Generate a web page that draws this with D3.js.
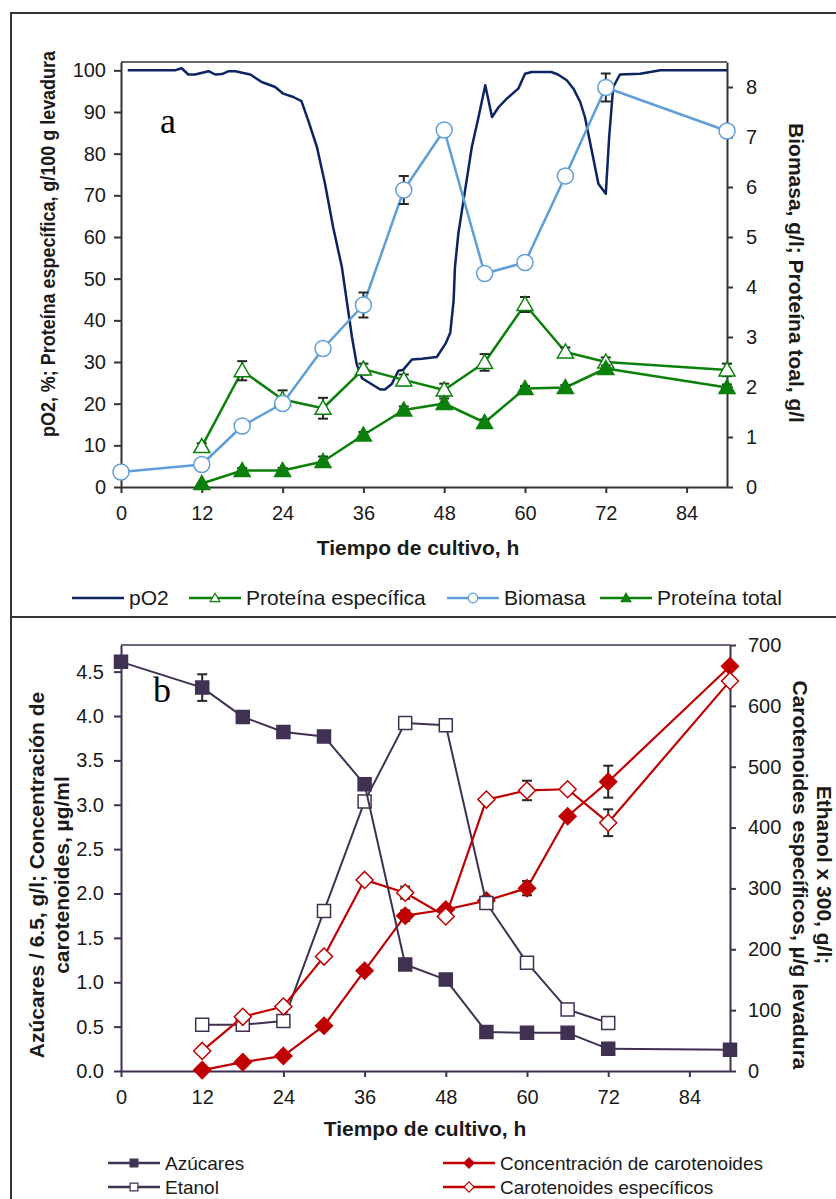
<!DOCTYPE html>
<html>
<head>
<meta charset="utf-8">
<script src="https://cdn.jsdelivr.net/npm/d3@7"></script>
<style>
  body { margin: 0; background: #fff; }
  svg { display: block; font-family: 'Liberation Sans', Arial, sans-serif; }
</style>
</head>
<body>
<svg id="chart" width="836" height="1199"></svg>
<script>
// ---- panel a ----
const horasA = [0, 12, 18, 24, 30, 36, 42, 48, 54, 60, 66, 72, 90];
const biomasa = [0.30, 0.45, 1.22, 1.67, 2.77, 3.64, 5.94, 7.14, 4.27, 4.49, 6.22, 7.99, 7.12];
const biomasaErr = [0, 0, 0, 0, 0, 0.25, 0.28, 0, 0, 0, 0, 0.28, 0];
const protEsp = [null, 9.7, 27.9, 21.0, 18.9, 28.3, 25.7, 23.3, 29.9, 43.8, 32.4, 30.0, 28.1];
const protEspErr = [0, 0.8, 2.3, 2.2, 2.5, 1.3, 1.3, 1.5, 2.0, 1.8, 1.1, 1.1, 1.5];
const protTotal = [null, 0.07, 0.33, 0.33, 0.51, 1.04, 1.54, 1.67, 1.29, 1.97, 1.99, 2.37, 1.99];
const protTotalErr = [0, 0, 0.05, 0.05, 0.1, 0.06, 0.07, 0.1, 0.06, 0.05, 0.05, 0.06, 0.06];

const pO2Horas = [1, 8, 9, 10, 11, 13, 14, 15, 16, 17, 18, 19.2, 20.9, 22.9, 24.1, 25.6, 26.8, 27.8,
  29.1, 30.3, 31.5, 32.8, 33.5, 34.3, 35.0, 35.8, 37.0, 38.5, 39.2, 40.2, 41.2, 41.9, 43.2, 44.7,
  46.9, 48.2, 48.9, 49.4, 49.6, 50.1, 51.1, 52.1, 53.1, 54.1, 55.1, 56.1, 57.3, 59.0, 60.0, 61.0,
  63.9, 64.9, 66.2, 67.2, 68.2, 68.9, 69.9, 70.9, 72.0, 72.5, 73.1, 74.1, 77.1, 80.1, 90];
const pO2 = [100, 100, 100.5, 99.0, 99.0, 99.8, 99.0, 99.1, 99.8, 99.8, 99.4, 99.0, 97.2, 96.0, 94.4, 93.6, 92.6, 88.0,
  81.6, 72.8, 62.4, 52.8, 45.0, 36.0, 29.5, 26.1, 24.9, 23.4, 23.4, 24.7, 27.9, 28.1, 30.6, 30.8,
  31.2, 34.4, 37.0, 44.8, 52.8, 60.8, 71.2, 81.6, 88.8, 96.4, 88.8, 91.2, 93.2, 95.6, 99.2, 99.6,
  99.6, 99.0, 97.6, 95.6, 92.4, 88.8, 80.8, 72.8, 70.4, 84.0, 96.0, 99.0, 99.2, 100, 100];

const ticksHoras = [0, 12, 24, 36, 48, 60, 72, 84];
const ticksA1 = [0, 10, 20, 30, 40, 50, 60, 70, 80, 90, 100];
const ticksA2 = [0, 1, 2, 3, 4, 5, 6, 7, 8];

// ---- panel b ----
const horasB = [0, 12, 18, 24, 30, 36, 42, 48, 54, 60, 66, 72, 90];
const azucares = [4.61, 4.32, 3.99, 3.82, 3.77, 3.23, 1.20, 1.03, 0.44, 0.43, 0.43, 0.25, 0.24];
const azucaresErr = [0, 0.15, 0.05, 0, 0, 0.05, 0, 0, 0, 0, 0, 0, 0];
const etanol = [null, 76, 76, 82, 263, 443, 572, 568, 276, 178, 101, 79, null];
const carotConc = [null, 0.01, 0.10, 0.17, 0.51, 1.13, 1.75, 1.82, 1.92, 2.06, 2.87, 3.26, 4.56];
const carotConcErr = [0, 0, 0, 0, 0, 0, 0.06, 0, 0, 0.08, 0, 0.18, 0];
const carotEsp = [null, 33, 89, 106, 188, 314, 293, 254, 446, 461, 463, 408, 641];
const carotEspErr = [0, 0, 0, 0, 0, 0, 10, 0, 0, 16, 0, 22, 0];

const ticksB1 = [0, 0.5, 1, 1.5, 2, 2.5, 3, 3.5, 4, 4.5];
const ticksB2 = [0, 100, 200, 300, 400, 500, 600, 700];

const navy = '#0d2463', lightBlue = '#5f9ed8', green = '#0b800b';
const purple = '#403152', red = '#c00000';
const font = 'Liberation Sans, Arial, sans-serif';

const shapes = {
  circle: s => `M${8 * s},0A${8 * s},${8 * s},0,1,1,${-8 * s},0A${8 * s},${8 * s},0,1,1,${8 * s},0Z`,
  triangle: s => `M0,${-8 * s}L${8 * s},${6 * s}L${-8 * s},${6 * s}Z`,
  square: s => `M${-6.5 * s},${-6.5 * s}h${13 * s}v${13 * s}h${-13 * s}Z`,
  diamond: s => `M0,${-8.5 * s}L${8.5 * s},0L0,${8.5 * s}L${-8.5 * s},0Z`
};

const svg = d3.select('#chart');

// outer frame
svg.append('path')
  .attr('d', 'M11,1199V13H836')
  .attr('fill', 'none').attr('stroke', '#333').attr('stroke-width', 2);
svg.append('line')
  .attr('x1', 11).attr('x2', 836).attr('y1', 617).attr('y2', 617)
  .attr('stroke', '#333').attr('stroke-width', 2);

function drawSeries(g, x, y, horas, vals, errs, o) {
  const pts = horas.map((t, i) => ({ t, v: vals[i], e: errs ? errs[i] : 0 }))
    .filter(d => d.v != null);

  g.append('path')
    .datum(pts)
    .attr('d', d3.line().x(d => x(d.t)).y(d => y(d.v)))
    .attr('fill', 'none')
    .attr('stroke', o.color)
    .attr('stroke-width', o.width || 2.5)
    .attr('stroke-linejoin', 'round');

  const eb = g.append('g').selectAll('g')
    .data(pts.filter(d => d.e > 0))
    .enter()
    .append('g')
      .attr('stroke', '#262626')
      .attr('stroke-width', 2);
  eb.append('line')
    .attr('x1', d => x(d.t)).attr('x2', d => x(d.t))
    .attr('y1', d => y(d.v - d.e)).attr('y2', d => y(d.v + d.e));
  eb.append('line')
    .attr('x1', d => x(d.t) - 5).attr('x2', d => x(d.t) + 5)
    .attr('y1', d => y(d.v + d.e)).attr('y2', d => y(d.v + d.e));
  eb.append('line')
    .attr('x1', d => x(d.t) - 5).attr('x2', d => x(d.t) + 5)
    .attr('y1', d => y(d.v - d.e)).attr('y2', d => y(d.v - d.e));

  if (o.shape) {
    g.append('g').selectAll('path')
      .data(pts)
      .enter()
      .append('path')
        .attr('transform', d => `translate(${x(d.t)},${y(d.v)})`)
        .attr('d', shapes[o.shape](1))
        .attr('fill', o.filled ? o.color : '#fff')
        .attr('stroke', o.color)
        .attr('stroke-width', 1.5);
  }
}

function styleAxis(sel, color) {
  sel.select('.domain').attr('stroke', color).attr('stroke-width', 2);
  sel.selectAll('.tick line').attr('stroke', color).attr('stroke-width', 2);
  sel.selectAll('.tick text')
    .attr('fill', '#1a1a1a')
    .style('font-size', '20px')
    .style('font-family', font);
}

function legendItem(g, x, y, label, o, size) {
  g.append('line')
    .attr('x1', x).attr('x2', x + 52).attr('y1', y).attr('y2', y)
    .attr('stroke', o.color).attr('stroke-width', 2.5);
  if (o.shape) {
    g.append('path')
      .attr('transform', `translate(${x + 26},${y})`)
      .attr('d', shapes[o.shape](0.6))
      .attr('fill', o.filled ? o.color : '#fff')
      .attr('stroke', o.color)
      .attr('stroke-width', 1.2);
  }
  g.append('text')
    .attr('x', x + 57).attr('y', y).attr('dy', '0.35em')
    .attr('fill', '#1a1a1a')
    .style('font-size', size + 'px')
    .text(label);
}

function titleText(g, x, y, rot, label, size, len) {
  const t = g.append('text')
    .attr('transform', `translate(${x},${y}) rotate(${rot})`)
    .attr('text-anchor', 'middle')
    .attr('dy', '0.35em')
    .attr('fill', '#1a1a1a')
    .style('font-size', size + 'px')
    .style('font-weight', 'bold')
    .text(label);
  if (len) t.attr('textLength', len).attr('lengthAdjust', 'spacingAndGlyphs');
}

// ================= panel a =================
const gA = svg.append('g');
const xA = d3.scaleLinear().domain([0, 90]).range([121, 727]);
const yA1 = d3.scaleLinear().domain([0, 102]).range([487, 62]);
const yA2 = d3.scaleLinear().domain([0, 8.5]).range([487, 62]);

gA.append('line')
  .attr('x1', xA(0)).attr('x2', xA(90)).attr('y1', yA1(102)).attr('y2', yA1(102))
  .attr('stroke', '#333').attr('stroke-width', 1.5);

gA.append('g').attr('transform', `translate(0,${yA1(0)})`)
  .call(d3.axisBottom(xA).tickValues(ticksHoras).tickSize(6).tickPadding(13).tickSizeOuter(0))
  .call(s => styleAxis(s, '#333'));
gA.append('g').attr('transform', `translate(${xA(0)},0)`)
  .call(d3.axisLeft(yA1).tickValues(ticksA1).tickSize(7).tickPadding(8).tickSizeOuter(0))
  .call(s => styleAxis(s, '#333'));
gA.append('g').attr('transform', `translate(${xA(90)},0)`)
  .call(d3.axisRight(yA2).tickValues(ticksA2).tickSize(6).tickPadding(13).tickSizeOuter(0))
  .call(s => styleAxis(s, '#333'));

drawSeries(gA, xA, yA1, pO2Horas, pO2, null, { color: navy, width: 2.5 });
drawSeries(gA, xA, yA1, horasA, protEsp, protEspErr, { color: green, shape: 'triangle' });
drawSeries(gA, xA, yA2, horasA, biomasa, biomasaErr, { color: lightBlue, shape: 'circle' });
drawSeries(gA, xA, yA2, horasA, protTotal, protTotalErr, { color: green, shape: 'triangle', filled: true });

gA.append('text')
  .attr('x', 160).attr('y', 133)
  .style('font-family', 'Liberation Serif, Times New Roman, serif')
  .style('font-size', '36px')
  .text('a');

titleText(gA, 48, 244, -90, 'pO2, %; Proteína específica, g/100 g levadura', 20, 386);
titleText(gA, 796, 273, 90, 'Biomasa, g/l; Proteína toal, g/l', 21);
titleText(gA, 418, 548, 0, 'Tiempo de cultivo, h', 21);

const legA = gA.append('g');
legendItem(legA, 72, 598, 'pO2', { color: navy }, 21);
legendItem(legA, 189, 598, 'Proteína específica', { color: green, shape: 'triangle' }, 21);
legendItem(legA, 447, 598, 'Biomasa', { color: lightBlue, shape: 'circle' }, 21);
legendItem(legA, 600, 598, 'Proteína total', { color: green, shape: 'triangle', filled: true }, 21);

// ================= panel b =================
const gB = svg.append('g');
const xB = d3.scaleLinear().domain([0, 90]).range([121, 730]);
const yB1 = d3.scaleLinear().domain([0, 4.8]).range([1071, 645]);
const yB2 = d3.scaleLinear().domain([0, 700]).range([1071, 645]);

gB.append('line')
  .attr('x1', xB(0)).attr('x2', xB(90)).attr('y1', yB2(700)).attr('y2', yB2(700))
  .attr('stroke', purple).attr('stroke-width', 1.5);

gB.append('g').attr('transform', `translate(0,${yB1(0)})`)
  .call(d3.axisBottom(xB).tickValues(ticksHoras).tickSize(6).tickPadding(13).tickSizeOuter(0))
  .call(s => styleAxis(s, purple));
gB.append('g').attr('transform', `translate(${xB(0)},0)`)
  .call(d3.axisLeft(yB1).tickValues(ticksB1).tickFormat(d3.format('.1f')).tickSize(7).tickPadding(10).tickSizeOuter(0))
  .call(s => styleAxis(s, purple));
gB.append('g').attr('transform', `translate(${xB(90)},0)`)
  .call(d3.axisRight(yB2).tickValues(ticksB2).tickSize(6).tickPadding(12).tickSizeOuter(0))
  .call(s => styleAxis(s, purple));

drawSeries(gB, xB, yB1, horasB, carotConc, carotConcErr, { color: red, shape: 'diamond', filled: true, width: 2.2 });
drawSeries(gB, xB, yB2, horasB, etanol, null, { color: purple, shape: 'square', width: 2 });
drawSeries(gB, xB, yB1, horasB, azucares, azucaresErr, { color: purple, shape: 'square', filled: true, width: 2 });
drawSeries(gB, xB, yB2, horasB, carotEsp, carotEspErr, { color: red, shape: 'diamond', width: 2.2 });

gB.append('text')
  .attr('x', 153).attr('y', 702)
  .style('font-family', 'Liberation Serif, Times New Roman, serif')
  .style('font-size', '36px')
  .text('b');

titleText(gB, 37, 875, -90, 'Azúcares / 6.5, g/l; Concentración de', 21);
titleText(gB, 62, 875, -90, 'carotenoides, µg/ml', 21);
titleText(gB, 824, 875, 90, 'Ethanol x 300, g/l;', 21);
titleText(gB, 800, 875, 90, 'Carotenoides específicos, µ/g levadura', 21);
titleText(gB, 425, 1129, 0, 'Tiempo de cultivo, h', 21);

const legB = gB.append('g');
legendItem(legB, 108, 1163, 'Azúcares', { color: purple, shape: 'square', filled: true }, 19);
legendItem(legB, 108, 1187, 'Etanol', { color: purple, shape: 'square' }, 19);
legendItem(legB, 443, 1163, 'Concentración de carotenoides', { color: red, shape: 'diamond', filled: true }, 19);
legendItem(legB, 443, 1187, 'Carotenoides específicos', { color: red, shape: 'diamond' }, 19);
</script>
</body>
</html>
